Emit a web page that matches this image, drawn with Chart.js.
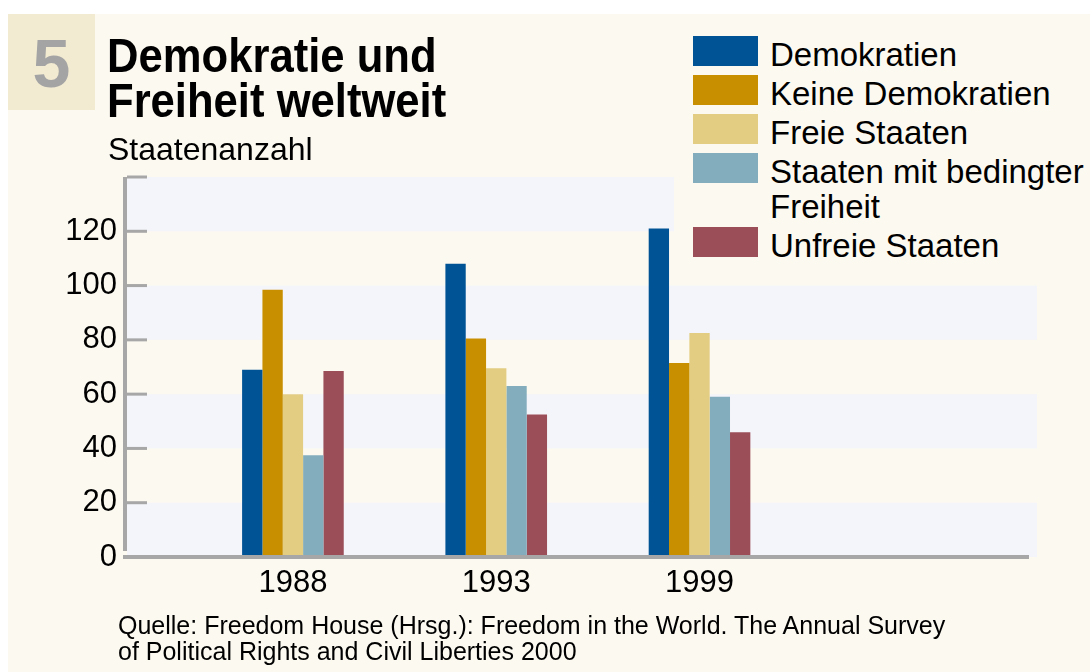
<!DOCTYPE html>
<html lang="de">
<head>
<meta charset="utf-8">
<title>Demokratie und Freiheit weltweit</title>
<script src="https://cdn.jsdelivr.net/npm/chart.js@4.4.1/dist/chart.umd.min.js"></script>
<style>
  html, body { margin: 0; padding: 0; background: #ffffff; }
  body { width: 1090px; height: 672px; position: relative; overflow: hidden;
         font-family: "Liberation Sans", Arial, sans-serif; color: #000; }
  #paper { position: absolute; left: 8px; top: 14px; width: 1082px; height: 658px; background: #fcf9f1; }
  #chartBox { position: absolute; left: 0; top: 0; width: 1090px; height: 672px; }
  #nummer { position: absolute; left: 8px; top: 14px; width: 87px; height: 96px; background: #f2ead1; }
  #nummer span { position: absolute; left: 0; width: 87px; top: 15px; text-align: center;
                 font-weight: bold; font-size: 68px; line-height: 68px; color: #a4a4a4; }
  #titel { position: absolute; left: 107px; top: 33px; font-weight: bold; font-size: 49px; line-height: 45px;
           margin: 0; white-space: nowrap; transform: scaleX(0.89); transform-origin: 0 0; }
  #einheit { position: absolute; left: 108px; top: 131px; font-size: 32px; line-height: 36px; }
  #legende { position: absolute; left: 674px; top: 20px; width: 416px; height: 245px; background: #fcf9f1; }
  .eintrag { position: absolute; left: 19px; }
  .eintrag .kasten { position: absolute; left: 0; top: 0; width: 65px; height: 30px; }
  .eintrag .text { position: absolute; left: 77px; top: 1px; width: 325px; font-size: 33px; line-height: 35px; }
  #quelle { position: absolute; left: 118px; top: 612px; font-size: 25px; line-height: 26px; white-space: nowrap; }
</style>
</head>
<body>
<div id="paper"></div>
<div id="chartBox"><canvas id="chart" width="1090" height="672"></canvas></div>
<div id="nummer"><span>5</span></div>
<h1 id="titel">Demokratie und<br>Freiheit weltweit</h1>
<div id="einheit">Staatenanzahl</div>
<div id="legende"></div>
<div id="quelle">Quelle: Freedom House (Hrsg.): Freedom in the World. The Annual Survey<br>of Political Rights and Civil Liberties 2000</div>

<script>
// Jahre (Kategorien)
const JAHRE = ['1988', '1993', '1999'];

// Serien (Anzahl Staaten)
const SERIEN = ['Demokratien', 'Keine Demokratien', 'Freie Staaten', 'Staaten mit bedingter Freiheit', 'Unfreie Staaten'];
const DEMOKRATIEN = [69, 108, 121];
const KEINE_DEMOKRATIEN = [98.5, 80.5, 71.5];
const FREIE_STAATEN = [60, 69.5, 82.5];
const BEDINGT_FREI = [37.5, 63, 59];
const UNFREIE_STAATEN = [68.5, 52.5, 46];

// y-Achse
const Y_MAX = 140;
const Y_SCHRITT = 20;

const FARBEN = ['#005495', '#c88f00', '#e3cd82', '#83adbc', '#9b4e58'];
const BAND_FARBE = '#f4f5fa';
const ACHSEN_FARBE = '#a7a7a7';
const SCHRIFT = '"Liberation Sans", Arial, sans-serif';

const werte = [DEMOKRATIEN, KEINE_DEMOKRATIEN, FREIE_STAATEN, BEDINGT_FREI, UNFREIE_STAATEN];

// Legende als HTML (wegen Zeilenumbruch)
const legende = document.getElementById('legende');
let oben = 16;
SERIEN.forEach((name, i) => {
  const row = document.createElement('div');
  row.className = 'eintrag';
  row.style.top = oben + 'px';
  row.innerHTML = `<div class="kasten" style="background:${FARBEN[i]}"></div><div class="text">${name}</div>`;
  legende.appendChild(row);
  const h = row.querySelector('.text').getBoundingClientRect().height;
  oben += h + 4;
});

// Hintergrundbänder zwischen den Ticks
const baender = {
  id: 'baender',
  beforeDatasetsDraw(chart) {
    const { ctx, chartArea, scales } = chart;
    const y = scales.y;
    ctx.save();
    ctx.fillStyle = BAND_FARBE;
    for (let v = 0; v < Y_MAX; v += 2 * Y_SCHRITT) {
      const y0 = y.getPixelForValue(v);
      const y1 = y.getPixelForValue(Math.min(v + Y_SCHRITT, Y_MAX));
      ctx.fillRect(chartArea.left + 2, y1, chartArea.right - chartArea.left - 2, y0 - y1);
    }
    ctx.restore();
  }
};

// Achsenlinien und Tickstriche
const achsen = {
  id: 'achsen',
  afterDatasetsDraw(chart) {
    const { ctx, chartArea, scales } = chart;
    const y = scales.y;
    ctx.save();
    ctx.fillStyle = ACHSEN_FARBE;
    ctx.fillRect(chartArea.left - 2, chartArea.top, 4, chartArea.bottom - chartArea.top - 6);
    y.ticks.forEach(t => {
      const py = y.getPixelForValue(t.value);
      ctx.fillRect(chartArea.left + 2, py - 1.5, 20, 3);
    });
    ctx.fillRect(chartArea.left - 2, chartArea.bottom - 2, chartArea.right - chartArea.left - 6, 4);
    ctx.restore();
  }
};

new Chart(document.getElementById('chart'), {
  type: 'bar',
  data: {
    datasets: SERIEN.map((name, i) => ({
      label: name,
      data: werte[i].map((v, j) => ({ x: j, y: v })),
      backgroundColor: FARBEN[i],
      borderWidth: 0,
      categoryPercentage: 0.5,
      barPercentage: 1.0
    }))
  },
  options: {
    responsive: false,
    devicePixelRatio: 1,
    animation: false,
    layout: { padding: { left: 0, top: 177, right: 53, bottom: 0 } },
    plugins: { legend: { display: false }, tooltip: { enabled: false } },
    scales: {
      x: {
        type: 'linear',
        offset: false,
        min: -0.826,
        max: 3.66,
        grid: { display: false, drawTicks: false },
        border: { display: false },
        afterBuildTicks(scale) { scale.ticks = JAHRE.map((_, i) => ({ value: i })); },
        afterFit(scale) { scale.height = 115; },
        ticks: {
          padding: 8,
          color: '#000',
          font: { family: SCHRIFT, size: 31 },
          callback: (v) => JAHRE[v]
        }
      },
      y: {
        min: 0,
        max: Y_MAX,
        grid: { display: false, drawTicks: false },
        border: { display: false },
        afterFit(scale) { scale.width = 125; },
        ticks: {
          stepSize: Y_SCHRITT,
          padding: 8,
          color: '#000',
          font: { family: SCHRIFT, size: 31 },
          callback: (v) => (v === Y_MAX ? '' : v)
        }
      }
    }
  },
  plugins: [baender, achsen]
});
</script>
</body>
</html>
